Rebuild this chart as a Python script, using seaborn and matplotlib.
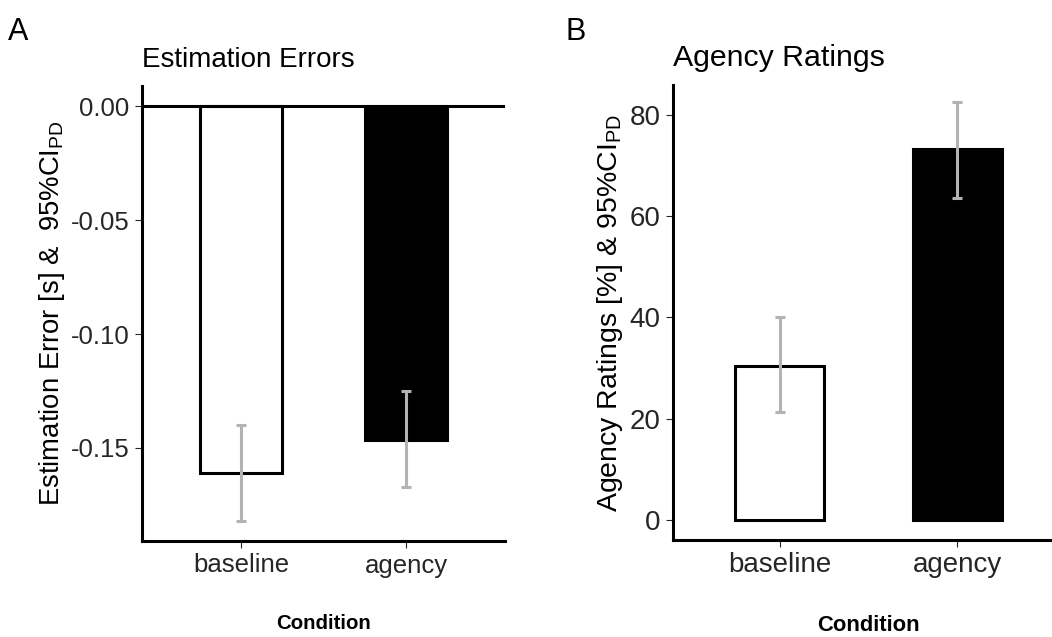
import numpy as np
import pandas as pd
import matplotlib
matplotlib.use("Agg")
import matplotlib.pyplot as plt
import seaborn as sns
from matplotlib.ticker import FormatStrFormatter

# data
conditions = ["baseline", "agency"]
bar_colors = ["white", "black"]

err_means = np.array([-0.161, -0.1465])
err_lower = np.array([-0.182, -0.167])
err_upper = np.array([-0.140, -0.125])

rating_means = np.array([30.5, 73.3])
rating_lower = np.array([21.4, 63.6])
rating_upper = np.array([40.0, 82.6])

err_ticks = [-0.15, -0.10, -0.05, 0.00]
rating_ticks = [0, 20, 40, 60, 80]

sns.set_style("ticks")
plt.rcParams["font.family"] = ["Liberation Sans", "DejaVu Sans"]
plt.rcParams["mathtext.fontset"] = "custom"
plt.rcParams["mathtext.rm"] = "Liberation Sans"
plt.rcParams["mathtext.it"] = "Liberation Sans:italic"
plt.rcParams["axes.unicode_minus"] = False

TXT = "#262626"


def draw_panel(ax, means, lower, upper, title, ylabel, ticks, sizes, fmt=None):
    title_fs, tick_fs, ylab_fs, xlab_fs = sizes
    df = pd.DataFrame({"condition": conditions, "value": means})
    sns.barplot(data=df, x="condition", y="value", hue="condition",
                palette=bar_colors, legend=False, width=0.5, saturation=1,
                edgecolor="black", linewidth=2.2, ax=ax)
    pos = np.arange(len(conditions))
    ax.errorbar(pos, means, yerr=[means - lower, upper - means], fmt="none",
                ecolor="#b3b3b3", elinewidth=2.2, capsize=3.3, capthick=2.2,
                zorder=5)

    ax.set_title(title, loc="left", fontsize=title_fs, pad=14, color="black")
    ax.set_ylabel(ylabel, fontsize=ylab_fs, color="black", labelpad=3)
    ax.set_xlabel("Condition", fontsize=xlab_fs, fontweight="bold",
                  color="black", labelpad=26)
    ax.set_yticks(ticks)
    if fmt:
        ax.yaxis.set_major_formatter(FormatStrFormatter(fmt))
    ax.tick_params(axis="both", length=5, width=0.8, color=TXT,
                   labelsize=tick_fs, labelcolor=TXT, pad=4)
    sns.despine(ax=ax)
    for side in ["left", "bottom"]:
        ax.spines[side].set_linewidth(2.2)
        ax.spines[side].set_color("black")


fig = plt.figure(figsize=(10.52, 6.37), dpi=100)
ax1 = fig.add_axes([142 / 1052, 96 / 637, 363 / 1052, 455 / 637])
ax2 = fig.add_axes([673 / 1052, 97 / 637, 391 / 1052, 455 / 637])

# --- A: estimation errors ---
draw_panel(ax1, err_means, err_lower, err_upper, "Estimation Errors",
           r"Estimation Error [s] &  95%CI$_{\mathrm{PD}}$", err_ticks,
           (20, 18.5, 19.8, 14.7), "%.2f")
ax1.axhline(0, color="black", linewidth=2.2, zorder=4)
ax1.set_xlim(-0.6, 1.6)
ax1.set_ylim(-0.1908, 0.0088)

# --- B: agency ratings ---
draw_panel(ax2, rating_means, rating_lower, rating_upper, "Agency Ratings",
           r"Agency Ratings [%] & 95%CI$_{\mathrm{PD}}$", rating_ticks,
           (21.8, 20, 20.5, 15.8))
ax2.set_xlim(-0.6, 1.6)
ax2.set_ylim(-3.95, 85.9)

fig.text(8 / 1052, 1 - 40 / 637, "A", fontsize=22, va="baseline", color="black")
fig.text(566 / 1052, 1 - 40 / 637, "B", fontsize=22, va="baseline", color="black")

fig.savefig("out.png", dpi=100)
